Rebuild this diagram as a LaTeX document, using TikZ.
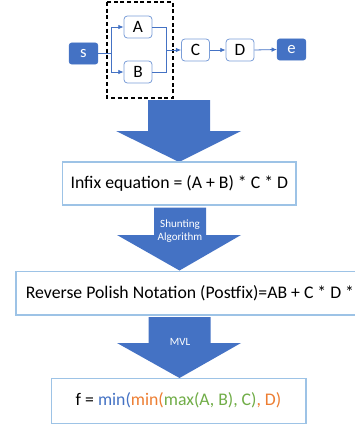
\documentclass[tikz,border=0pt]{standalone}
\usepackage{fontspec}
\setmainfont{Carlito}
\usetikzlibrary{arrows.meta}
\definecolor{mblue}{HTML}{4472C4}
\definecolor{lblue}{HTML}{9DC3E6}
\definecolor{sblue}{HTML}{7B9ED8}
\definecolor{morange}{HTML}{ED7D31}
\definecolor{mgreen}{HTML}{70AD47}
\begin{document}
\begin{tikzpicture}[x=0.75pt,y=-0.75pt,
  endbox/.style={fill=mblue,draw=mblue,rounded corners=2pt,text=white,minimum width=21.5pt,minimum height=16pt,inner sep=0pt,font=\fontsize{12.5}{13}\selectfont},
  letbox/.style={fill=white,draw=sblue,line width=0.6pt,rounded corners=2.5pt,minimum width=21pt,minimum height=16.5pt,inner sep=0pt,font=\fontsize{13}{14}\selectfont},
  conn/.style={draw=mblue,line width=0.6pt},
  arr/.style={conn,-{Latex[length=4pt,width=3.5pt]}},
  bigbox/.style={draw=lblue,line width=0.8pt,fill=white},
  bigtext/.style={font=\fontsize{13.3}{15}\selectfont,inner sep=0pt},
  bigarrow/.style={fill=mblue,draw=none},
  arrtext/.style={text=white,font=\fontsize{8.3}{9.6}\selectfont,align=center,inner sep=0pt}]
\useasboundingbox (0,0) rectangle (354,425);
% top graph
\draw[dash pattern=on 3pt off 2pt,line width=0.9pt] (107,2) rectangle (173,98);
\node[endbox] (s) at (83.5,53.5) {s};
\node[letbox] (A) at (138,27) {A};
\node[letbox] (B) at (138,72) {B};
\node[letbox] (C) at (195.5,50) {C};
\node[letbox] (D) at (240,50) {D};
\node[endbox] (e) at (291.5,49.5) {e};
\coordinate (j1) at (111,53.5);
\coordinate (ja) at (111,27);
\coordinate (jb) at (111,72);
\coordinate (ka) at (166.5,27);
\coordinate (kb) at (166.5,72);
\coordinate (kc) at (166.5,50);
\draw[conn] (s.east) -- (j1);
\draw[conn] (ja) -- (jb);
\draw[arr] (ja) -- (A.west);
\draw[arr] (jb) -- (B.west);
\draw[conn] (A.east) -- (ka) -- (kb) -- (B.east);
\draw[arr] (kc) -- (C.west);
\draw[arr] (C.east) -- (D.west);
\draw[arr] (D.east) -- (e.west);
% arrow 1
\fill[bigarrow] (148,100) -- (210,100) -- (210,131) -- (241,131) -- (179,162) -- (116,131) -- (148,131) -- cycle;
% infix box
\draw[bigbox] (62.7,162) rectangle (296,205);
\node[bigtext] (infix) at (179.3,183.5) {Infix equation = (A + B) * C * D};
% arrow 2
\fill[bigarrow] (154,207.5) -- (206,207.5) -- (206,235) -- (241,235) -- (179.5,270.5) -- (117,235) -- (154,235) -- cycle;
\node[arrtext] (shunt) at (180,231.5) {Shunting\\Algorithm};
% RPN box
\draw[bigbox] (16,271.7) rectangle (362,315);
\node[bigtext] (rpn) at (190,293) {Reverse Polish Notation (Postfix)=AB + C * D *};
% arrow 3
\fill[bigarrow] (148.5,317) -- (210.5,317) -- (210.5,343) -- (241,343) -- (179.5,378) -- (117,343) -- (148.5,343) -- cycle;
\node[arrtext] (mvl) at (180,341.5) {MVL};
% f box
\draw[bigbox] (51.7,378.3) rectangle (306,423.3);
\node[bigtext] (f) at (178.5,400.5) {f = \textcolor{mblue}{min(}\textcolor{morange}{min(}\textcolor{mgreen}{max(A, B), C)}\textcolor{morange}{, D)}};
\end{tikzpicture}
\end{document}
